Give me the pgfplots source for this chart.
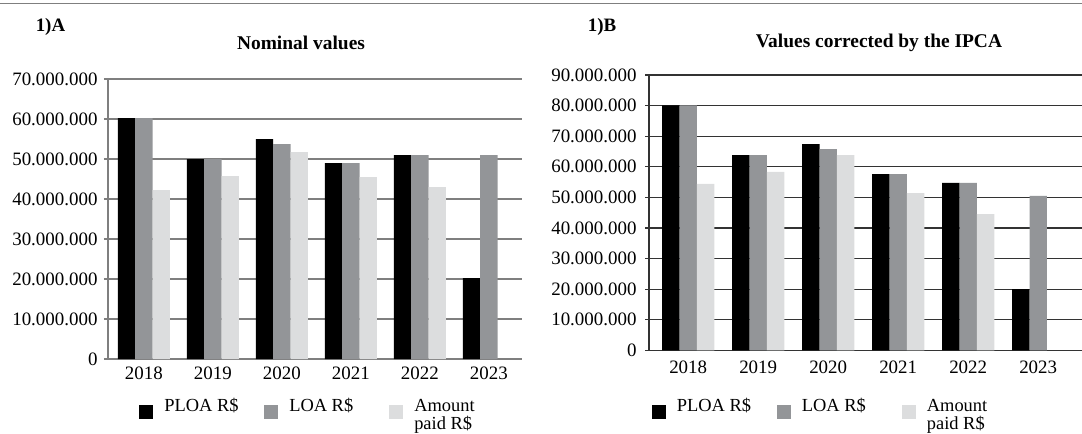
\documentclass[border=0pt]{standalone}
\usepackage{pgfplots}
\pgfplotsset{compat=1.18}
\usepackage{pgfplotstable}
\usepackage{fontspec}
\setmainfont{Liberation Serif}
\definecolor{cblack}{HTML}{000000}
\definecolor{cgrey}{HTML}{939598}
\definecolor{clight}{HTML}{DCDDDE}
\definecolor{gridA}{HTML}{7F7F7F}
\definecolor{gridB}{HTML}{333333}

\pgfplotstableread{
x ploa loa paid
0 60250000 60250000 42250000
1 50000000 50000000 45750000
2 55000000 53750000 51750000
3 49000000 49000000 45500000
4 51000000 51000000 43000000
5 20250000 51000000 nan
}\nominal
\pgfplotstableread{
x ploa loa paid
0 80100000 80100000 54400000
1 63800000 63800000 58300000
2 67400000 65800000 63800000
3 57600000 57600000 51400000
4 54700000 54700000 44500000
5 20000000 50500000 nan
}\ipca

\pgfplotsset{
  mybar/.style={
    scale only axis,
    anchor=south west,
    ybar=0pt,
    bar width=17.4bp,
    xtick={0,1,2,3,4,5},
    xticklabels={2018,2019,2020,2021,2022,2023},
    ymin=0,
    axis x line*=bottom,
    axis y line*=left,
    axis line style={-},
    ymajorgrids,
    tick align=outside,
    major tick length=4bp,
    xtick style={draw=none},
    scaled y ticks=false,
    tick label style={font=\fontsize{19}{22}\selectfont},
    legend columns=3,
    legend cell align=left,
    legend image code/.code={\path[#1] (0bp,-13bp) rectangle (14bp,1bp);},
    legend style={draw=none, fill=none, inner sep=0pt, outer sep=0pt, anchor=west,
      font=\fontsize{18.5}{18}\selectfont,
      /tikz/every odd column/.append style={column sep=9bp}},
  },
}

\begin{document}
\begin{tikzpicture}
\useasboundingbox (0,0) rectangle (1082bp,-434bp);
\draw[color=gridA, line width=1.5bp] (0bp,-3.3bp) -- (1082bp,-3.3bp);

% Panel A
\begin{axis}[mybar,
  at={(108bp,-359bp)},
  width=414bp, height=280bp,
  xmin=-0.52, xmax=5.48,
  ymax=70000000,
  ytick={0,10000000,20000000,30000000,40000000,50000000,60000000,70000000},
  yticklabels={0,10.000.000,20.000.000,30.000.000,40.000.000,50.000.000,60.000.000,70.000.000},
  yticklabel style={xshift=-3bp},
  grid style={color=gridA, line width=1.3bp},
  axis line style={color=gridA, line width=1.3bp},
  ytick style={color=gridA, line width=1.3bp},
  legend style={at={(0.0756,-0.1736)}},
]
\addplot[fill=cblack, draw=none] table[x=x, y=ploa] {\nominal};
\addlegendentry{\makebox[98bp][l]{PLOA R\$}}
\addplot[fill=cgrey, draw=none] table[x=x, y=loa] {\nominal};
\addlegendentry{\makebox[98bp][l]{LOA R\$}}
\addplot[fill=clight, draw=none] table[x=x, y=paid] {\nominal};
\addlegendentry{\raisebox{0pt}[\height][0pt]{\vtop{\hbox{Amount}\hbox{paid R\$}}}}
\end{axis}

% Panel B
\begin{axis}[mybar,
  at={(649bp,-350.3bp)},
  width=434bp, height=275.3bp,
  xmin=-0.56, xmax=5.64,
  ymax=90000000,
  ytick={0,10000000,20000000,30000000,40000000,50000000,60000000,70000000,80000000,90000000},
  yticklabels={0,10.000.000,20.000.000,30.000.000,40.000.000,50.000.000,60.000.000,70.000.000,80.000.000,90.000.000},
  yticklabel style={xshift=-5bp},
  xticklabel style={yshift=-3bp},
  grid style={color=gridB, line width=1.2bp},
  axis line style={color=gridB, line width=1.2bp},
  ytick style={color=gridB, line width=1.2bp},
  legend style={at={(0.0067,-0.2081)}},
]
\addplot[fill=cblack, draw=none] table[x=x, y=ploa] {\ipca};
\addlegendentry{\makebox[98bp][l]{PLOA R\$}}
\addplot[fill=cgrey, draw=none] table[x=x, y=loa] {\ipca};
\addlegendentry{\makebox[98bp][l]{LOA R\$}}
\addplot[fill=clight, draw=none] table[x=x, y=paid] {\ipca};
\addlegendentry{\raisebox{0pt}[\height][0pt]{\vtop{\hbox{Amount}\hbox{paid R\$}}}}
\end{axis}

\node[font=\bfseries\fontsize{19}{22}\selectfont] at (50.5bp,-26.7bp) {1)A};
\node[font=\bfseries\fontsize{19.5}{22}\selectfont] at (301bp,-43bp) {Nominal values};
\node[font=\bfseries\fontsize{19}{22}\selectfont] at (602bp,-26.7bp) {1)B};
\node[font=\bfseries\fontsize{19.5}{22}\selectfont] at (879bp,-43bp) {Values corrected by the IPCA};
\end{tikzpicture}
\end{document}
